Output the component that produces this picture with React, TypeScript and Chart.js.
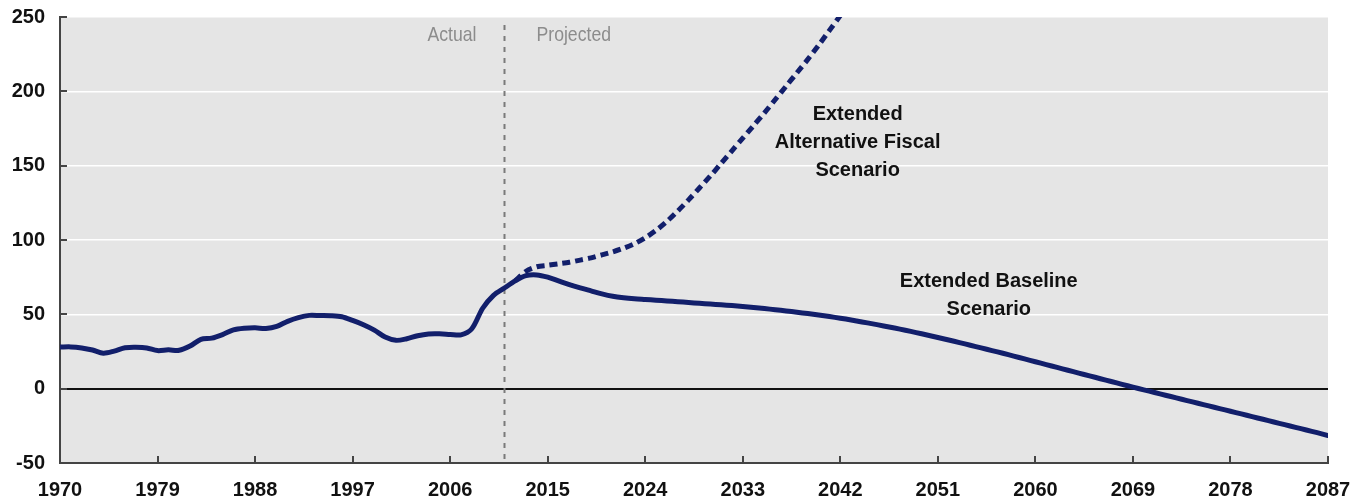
import React, { useEffect, useRef } from "react";
import { Chart, registerables } from "chart.js";

Chart.register(...registerables);

// ---- Data ----
const firstYear = 1970;
const lastYear = 2087;
const dividerYear = 2011;
const xTickStep = 9;
const yTicks = [-50, 0, 50, 100, 150, 200, 250];

// Federal debt held by the public, % of GDP — actual (1970–2011)
const actualDebt = [
  28.0, 28.1, 27.4, 26.0, 23.9, 25.3, 27.5, 27.8, 27.4, 25.6,
  26.1, 25.8, 28.7, 33.1, 34.0, 36.4, 39.5, 40.6, 40.9, 40.5,
  41.9, 45.3, 47.8, 49.3, 49.2, 49.1, 48.4, 45.9, 43.0, 39.4,
  34.7, 32.5, 33.6, 35.6, 36.8, 36.9, 36.5, 36.2, 40.3, 54.1,
  62.8, 67.7,
];

// Extended Baseline Scenario (2012–2087)
const baselineStartYear = 2012;
const baselineProjection = [
  72.5, 76.0, 76.5, 75.0, 72.5, 70.0, 67.8, 65.8, 63.8, 62.2,
  61.2, 60.5, 60.0, 59.5, 59.0, 58.5, 58.0, 57.4, 56.9, 56.4,
  55.9, 55.3, 54.6, 53.9, 53.1, 52.3, 51.4, 50.5, 49.5, 48.5,
  47.4, 46.2, 44.9, 43.6, 42.2, 40.8, 39.3, 37.7, 36.1, 34.4,
  32.7, 31.0, 29.2, 27.4, 25.6, 23.8, 21.9, 20.0, 18.1, 16.2,
  14.3, 12.4, 10.5, 8.6, 6.7, 4.8, 2.9, 1.0, -0.8, -2.6,
  -4.4, -6.2, -8.0, -9.8, -11.6, -13.4, -15.2, -17.0, -18.8, -20.6,
  -22.4, -24.2, -26.0, -27.8, -29.6, -31.5,
];

// Extended Alternative Fiscal Scenario (2012–2042, leaves chart at top)
const alternativeStartYear = 2012;
const alternativeProjection = [
  72.5, 79.0, 82.0, 83.0, 84.0, 85.0, 86.5, 88.0, 90.0, 92.0,
  94.5, 97.5, 101.5, 106.5, 112.5, 119.5, 127.0, 135.0, 143.0, 151.5,
  160.0, 168.5, 177.0, 185.5, 194.5, 203.5, 212.5, 221.5, 231.0, 241.0,
  251.0,
];

const periodLabels = ["Actual", "Projected"];
const baselineLabel = ["Extended Baseline", "Scenario"];
const baselineLabelAt = { year: 2055.7, value: 62.7 };
const alternativeLabel = ["Extended", "Alternative Fiscal", "Scenario"];
const alternativeLabelAt = { year: 2043.6, value: 165.5 };

// ---- Styles ----
const NAVY = "#121f6b";
const BG = "#e5e5e5";
const AXIS = "#444444";

const toPoints = (start: number, values: number[]) =>
  values.map((v, i) => ({ x: start + i, y: v }));

const plotPlugin = {
  id: "plotDecor",
  beforeDraw(chart: any) {
    const { ctx, chartArea } = chart;
    ctx.save();
    ctx.fillStyle = BG;
    ctx.fillRect(chartArea.left, chartArea.top, chartArea.right - chartArea.left, chartArea.bottom - chartArea.top);
    ctx.restore();
  },
  beforeDatasetsDraw(chart: any) {
    const { ctx, chartArea, scales } = chart;
    const x = Math.round(scales.x.getPixelForValue(dividerYear)) + 0.5;
    ctx.save();
    ctx.strokeStyle = "#7a7a7a";
    ctx.lineWidth = 2;
    ctx.setLineDash([5, 6]);
    ctx.beginPath();
    ctx.moveTo(x, chartArea.top + 8);
    ctx.lineTo(x, chartArea.bottom);
    ctx.stroke();
    ctx.setLineDash([]);
    ctx.fillStyle = "#8c8c8c";
    ctx.font = "21px 'Liberation Sans', Arial, sans-serif";
    ctx.textBaseline = "middle";
    const ty = scales.y.getPixelForValue(238);
    const sx = 0.84;
    ctx.save();
    ctx.translate(x - 28, ty);
    ctx.scale(sx, 1);
    ctx.textAlign = "right";
    ctx.fillText(periodLabels[0], 0, 0);
    ctx.restore();
    ctx.save();
    ctx.translate(x + 32, ty);
    ctx.scale(sx, 1);
    ctx.textAlign = "left";
    ctx.fillText(periodLabels[1], 0, 0);
    ctx.restore();
    ctx.restore();
  },
  afterDatasetsDraw(chart: any) {
    const { ctx, chartArea, scales } = chart;
    ctx.save();
    ctx.strokeStyle = AXIS;
    ctx.lineWidth = 2;
    for (const v of yTicks) {
      const y = Math.round(scales.y.getPixelForValue(v));
      ctx.beginPath();
      ctx.moveTo(chartArea.left, y);
      ctx.lineTo(chartArea.left + 7, y);
      ctx.stroke();
    }
    for (let yr = firstYear; yr <= lastYear; yr += xTickStep) {
      const x = Math.round(scales.x.getPixelForValue(yr));
      ctx.beginPath();
      ctx.moveTo(x, chartArea.bottom);
      ctx.lineTo(x, chartArea.bottom - 7);
      ctx.stroke();
    }
    ctx.fillStyle = "#111111";
    ctx.font = "bold 20px 'Liberation Sans', Arial, sans-serif";
    ctx.textAlign = "center";
    ctx.textBaseline = "middle";
    const drawBlock = (lines: string[], at: { year: number; value: number }) => {
      const cx = scales.x.getPixelForValue(at.year);
      const cy = scales.y.getPixelForValue(at.value);
      const lh = 28;
      const y0 = cy - ((lines.length - 1) * lh) / 2;
      lines.forEach((l, i) => ctx.fillText(l, cx, y0 + i * lh));
    };
    drawBlock(alternativeLabel, alternativeLabelAt);
    drawBlock(baselineLabel, baselineLabelAt);
    ctx.restore();
  },
};

export default function App() {
  const ref = useRef<HTMLCanvasElement>(null);
  useEffect(() => {
    if (!ref.current) return;
    const chart = new Chart(ref.current, {
      type: "line",
      data: {
        datasets: [
          {
            label: "Extended Alternative Fiscal Scenario",
            data: toPoints(alternativeStartYear, alternativeProjection),
            borderColor: NAVY,
            borderWidth: 5,
            borderDash: [8, 5],
            pointRadius: 0,
            tension: 0.3,
            fill: false,
          },
          {
            label: "Extended Baseline Scenario",
            data: [
              ...toPoints(firstYear, actualDebt),
              ...toPoints(baselineStartYear, baselineProjection),
            ],
            borderColor: NAVY,
            borderWidth: 5,
            pointRadius: 0,
            tension: 0.3,
            fill: false,
            borderCapStyle: "round",
            borderJoinStyle: "round",
          },
        ],
      },
      options: {
        animation: false,
        responsive: false,
        maintainAspectRatio: false,
        layout: { padding: { top: 17, right: 38, left: 0, bottom: 0 } },
        plugins: { legend: { display: false }, tooltip: { enabled: false } },
        scales: {
          x: {
            type: "linear",
            min: firstYear,
            max: lastYear,
            afterFit: (s: any) => {
              s.height = 41;
              s.paddingLeft = 0;
              s.paddingRight = 0;
            },
            afterBuildTicks: (s: any) => {
              const t = [];
              for (let yr = firstYear; yr <= lastYear; yr += xTickStep) t.push({ value: yr });
              s.ticks = t;
            },
            ticks: {
              autoSkip: false,
              maxRotation: 0,
              padding: 15,
              color: "#111111",
              font: { family: "'Liberation Sans', Arial, sans-serif", size: 20, weight: "bold" },
              callback: (v: any) => String(v),
            },
            grid: { display: false, drawTicks: false },
            border: { display: true, color: AXIS, width: 2 },
          },
          y: {
            min: -50,
            max: 250,
            afterFit: (s: any) => {
              s.width = 60;
              s.paddingTop = 0;
              s.paddingBottom = 0;
            },
            afterBuildTicks: (s: any) => { s.ticks = yTicks.map((v) => ({ value: v })); },
            ticks: {
              padding: 15,
              color: "#111111",
              font: { family: "'Liberation Sans', Arial, sans-serif", size: 20, weight: "bold" },
            },
            grid: {
              drawTicks: false,
              color: (c: any) => (c.tick && c.tick.value === 0 ? "#111111" : "#ffffff"),
              lineWidth: (c: any) => (c.tick && c.tick.value === 0 ? 2 : 1.5),
            },
            border: { display: true, color: AXIS, width: 2 },
          },
        },
      },
      plugins: [plotPlugin],
    } as any);
    return () => chart.destroy();
  }, []);
  return (
    <div style={{ position: "fixed", left: 0, top: 0, width: 1366, height: 504, background: "#fff" }}>
      <canvas ref={ref} width={1366} height={504} style={{ width: 1366, height: 504, display: "block" }} />
    </div>
  );
}
